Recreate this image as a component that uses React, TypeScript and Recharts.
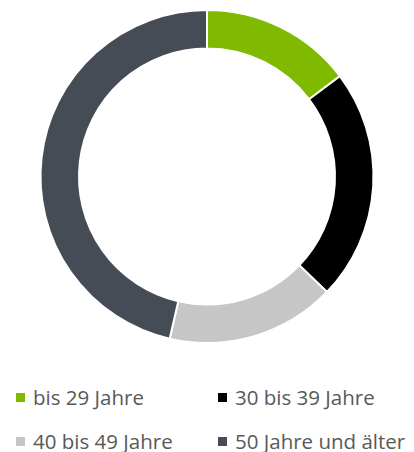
import React from "react";
import { PieChart, Pie, Cell } from "recharts";

const categories = ["bis 29 Jahre", "30 bis 39 Jahre", "40 bis 49 Jahre", "50 Jahre und älter"];
const values = [14.7, 22.5, 16.4, 46.4];
const colors = ["#7FBA00", "#000000", "#C6C6C6", "#464C55"];

const data = categories.map((name, i) => ({ name, value: values[i] }));

const legendPos = [
  { left: 16, top: 397 },
  { left: 218, top: 397 },
  { left: 16, top: 441 },
  { left: 218, top: 441 },
];

export default function App() {
  return (
    <div style={{ position: "absolute", left: 0, top: 0, width: 414, height: 452, background: "#fff", fontFamily: "'Open Sans', sans-serif", overflow: "hidden" }}>
      <PieChart width={414} height={360} margin={{ top: 0, right: 0, bottom: 0, left: 0 }}>
        <Pie
          data={data}
          dataKey="value"
          nameKey="name"
          cx={207}
          cy={176.5}
          innerRadius={128}
          outerRadius={166.5}
          startAngle={90}
          endAngle={-270}
          stroke="#ffffff"
          strokeWidth={2}
          isAnimationActive={false}
        >
          {data.map((d, i) => (
            <Cell key={d.name} fill={colors[i]} />
          ))}
        </Pie>
      </PieChart>
      {categories.map((c, i) => (
        <div
          key={c}
          style={{
            position: "absolute",
            left: legendPos[i].left,
            top: legendPos[i].top - 11,
            height: 22,
            display: "flex",
            alignItems: "center",
            whiteSpace: "nowrap",
          }}
        >
          <span style={{ display: "inline-block", width: 9, height: 9, background: colors[i], marginRight: 8 }} />
          <span style={{ fontSize: 20.5, color: "#595959", lineHeight: "22px" }}>{c}</span>
        </div>
      ))}
    </div>
  );
}
